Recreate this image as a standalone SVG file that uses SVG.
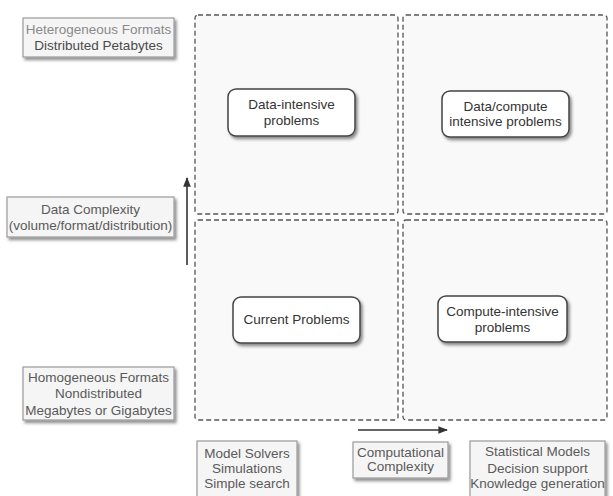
<svg xmlns="http://www.w3.org/2000/svg" width="613" height="496" viewBox="0 0 613 496">
  <style>
    text { font-family: "Liberation Sans", Arial, sans-serif; font-size: 13.5px; text-anchor: middle; dominant-baseline: central; }
    .quad { fill: #f9f9f9; stroke: #555; stroke-width: 1.3; stroke-dasharray: 5 3; }
    .node rect { fill: #ffffff; stroke: #444; stroke-width: 1.5; filter: url(#shadow); }
    .node text { fill: #333; }
    .label rect { fill: #f5f5f5; stroke: #9a9a9a; stroke-width: 1.2; filter: url(#shadow); }
    .label text { fill: #5a5a5a; }
    .conn { stroke: #333; stroke-width: 1.6; fill: none; marker-end: url(#arrow); }
  </style>
  <defs>
    <filter id="shadow" x="-10%" y="-10%" width="130%" height="140%">
      <feDropShadow dx="2" dy="2.5" stdDeviation="1.5" flood-color="#000" flood-opacity="0.45"/>
    </filter>
    <marker id="arrow" viewBox="0 0 10 10" refX="9" refY="5" markerWidth="6" markerHeight="6" orient="auto">
      <path d="M0,1 L10,5 L0,9 z" fill="#333"/>
    </marker>
  </defs>

  <rect width="613" height="496" fill="#ffffff"/>

  <!-- quadrants -->
  <g id="quadrants">
    <rect class="quad" x="195" y="15" width="203" height="199" rx="3"/>
    <rect class="quad" x="403" y="15" width="204" height="199" rx="3"/>
    <rect class="quad" x="195" y="220" width="203" height="200" rx="3"/>
    <rect class="quad" x="403" y="220" width="204" height="200" rx="3"/>
  </g>

  <!-- problem nodes -->
  <g id="data-intensive" class="node">
    <rect x="228" y="89" width="127" height="47" rx="8"/>
    <text x="291.5" y="104">Data-intensive</text>
    <text x="291.5" y="120">problems</text>
  </g>
  <g id="data-compute-intensive" class="node">
    <rect x="442" y="91" width="127" height="46" rx="8"/>
    <text x="505.5" y="106">Data/compute</text>
    <text x="505.5" y="121">intensive problems</text>
  </g>
  <g id="current" class="node">
    <rect x="233" y="297" width="127" height="46" rx="8"/>
    <text x="296.5" y="319">Current Problems</text>
  </g>
  <g id="compute-intensive" class="node">
    <rect x="438" y="296" width="129" height="46" rx="8"/>
    <text x="502.5" y="311">Compute-intensive</text>
    <text x="502.5" y="327">problems</text>
  </g>

  <!-- axis labels -->
  <g id="heterogeneous" class="label">
    <rect x="23" y="18" width="151" height="39"/>
    <text x="98.5" y="29" fill="#888" style="fill:#8a8a8a">Heterogeneous Formats</text>
    <text x="98.5" y="45" style="fill:#4a4a4a">Distributed Petabytes</text>
  </g>
  <g id="data-complexity" class="label">
    <rect x="7" y="197" width="167" height="40"/>
    <text x="90.5" y="209">Data Complexity</text>
    <text x="90.5" y="225">(volume/format/distribution)</text>
  </g>
  <g id="homogeneous" class="label">
    <rect x="23" y="367" width="151" height="53"/>
    <text x="98.5" y="377">Homogeneous Formats</text>
    <text x="98.5" y="393">Nondistributed</text>
    <text x="98.5" y="410">Megabytes or Gigabytes</text>
  </g>
  <g id="model-solvers" class="label">
    <rect x="197" y="441" width="100" height="58"/>
    <text x="247" y="453">Model Solvers</text>
    <text x="247" y="468">Simulations</text>
    <text x="247" y="483">Simple search</text>
  </g>
  <g id="computational-complexity" class="label">
    <rect x="353" y="442" width="95" height="36"/>
    <text x="400.5" y="452">Computational</text>
    <text x="400.5" y="466">Complexity</text>
  </g>
  <g id="statistical-models" class="label">
    <rect x="470" y="441" width="135" height="58"/>
    <text x="537.5" y="451">Statistical Models</text>
    <text x="537.5" y="468">Decision support</text>
    <text x="537.5" y="483">Knowledge generation</text>
  </g>

  <!-- axis arrows -->
  <g id="connectors">
    <line class="conn" x1="187" y1="265" x2="187" y2="178"/>
    <line class="conn" x1="358" y1="430" x2="447" y2="430"/>
  </g>
</svg>
